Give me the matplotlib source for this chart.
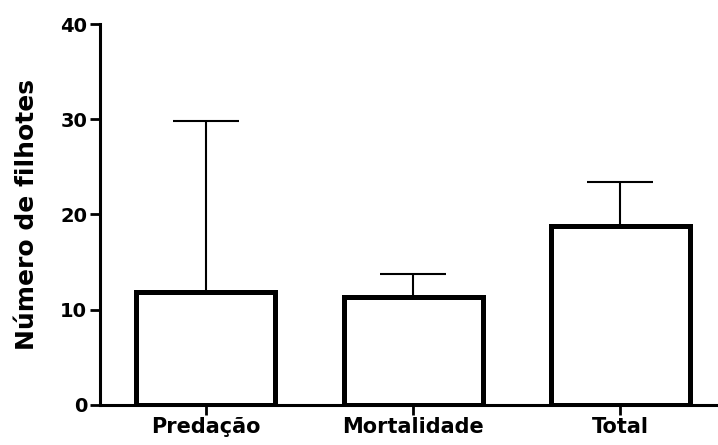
import matplotlib
matplotlib.use("Agg")
import matplotlib.pyplot as plt
import numpy as np

categories = ["Predação", "Mortalidade", "Total"]
means = [11.9, 11.3, 18.8]
errors_up = [17.9, 2.5, 4.6]
yticks = [0, 10, 20, 30, 40]

plt.rcParams['font.family'] = ['DejaVu Sans']

fig = plt.figure(figsize=(7.18, 4.45), dpi=100)
ax = fig.add_axes([0.139, 0.09, 0.861, 0.856])

x = np.arange(len(categories))
ax.errorbar(x, means, yerr=[np.zeros(len(means)), errors_up], fmt='none',
            ecolor='black', elinewidth=1.5, capsize=24, capthick=1.5, zorder=1)
ax.bar(x, means, width=0.67, color='white', edgecolor='black', linewidth=3.6, zorder=2)

ax.set_xlim(-0.51, 2.47)
ax.set_ylim(0, 40)
ax.set_yticks(yticks)
ax.set_xticks(x)
ax.set_xticklabels(categories, fontsize=15, fontweight='bold')
for lab in ax.get_yticklabels():
    lab.set_fontsize(14)
    lab.set_fontweight('bold')
ax.set_ylabel("Número de filhotes", fontsize=18, fontweight='bold', labelpad=15)

for s in ['top', 'right']:
    ax.spines[s].set_visible(False)
for s in ['left', 'bottom']:
    ax.spines[s].set_linewidth(2.2)
ax.tick_params(axis='both', length=7, width=2, direction='out', pad=2)

fig.savefig("out.png", dpi=100)
